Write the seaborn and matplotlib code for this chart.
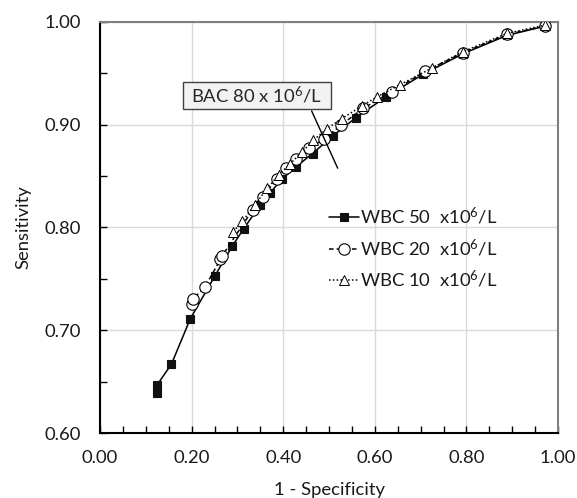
import numpy as np
import pandas as pd
import matplotlib
matplotlib.use("Agg")
import matplotlib.pyplot as plt
from matplotlib.patches import Rectangle
from matplotlib.ticker import MultipleLocator, FormatStrFormatter
import seaborn as sns

# ---------------- data ----------------
wbc50_x = [0.124, 0.125, 0.156, 0.197, 0.251, 0.289, 0.314, 0.350, 0.372, 0.397,
           0.428, 0.464, 0.508, 0.559, 0.624, 0.705, 0.792, 0.889, 0.972]
wbc50_y = [0.639, 0.647, 0.667, 0.711, 0.753, 0.782, 0.799, 0.822, 0.834, 0.847,
           0.859, 0.872, 0.889, 0.907, 0.927, 0.949, 0.969, 0.987, 0.996]

wbc20_x = [0.201, 0.202, 0.229, 0.263, 0.266, 0.333, 0.355, 0.386, 0.406, 0.428,
           0.457, 0.489, 0.527, 0.575, 0.637, 0.710, 0.792, 0.889, 0.972]
wbc20_y = [0.726, 0.730, 0.742, 0.769, 0.772, 0.817, 0.830, 0.847, 0.858, 0.867,
           0.877, 0.886, 0.900, 0.916, 0.932, 0.952, 0.970, 0.988, 0.996]

wbc10_x = [0.291, 0.311, 0.338, 0.365, 0.390, 0.415, 0.440, 0.466, 0.495, 0.528,
           0.571, 0.604, 0.655, 0.724, 0.792, 0.889, 0.972]
wbc10_y = [0.796, 0.806, 0.822, 0.838, 0.851, 0.862, 0.873, 0.885, 0.896, 0.906,
           0.918, 0.927, 0.939, 0.955, 0.971, 0.989, 0.997]

series_labels = [r"WBC 50  x10$^{\mathrm{6}}$/L",
                 r"WBC 20  x10$^{\mathrm{6}}$/L",
                 r"WBC 10  x10$^{\mathrm{6}}$/L"]

annot_text = r"BAC 80 x 10$^{\mathrm{6}}$/L"
annot_text_xy = (0.198, 0.9283)
annot_box_x = (0.1806, 0.5044)
annot_box_y = (0.9153, 0.9413)
annot_line_x = [0.462, 0.519]
annot_line_y = [0.9135, 0.8577]

x_ticks = [0.0, 0.2, 0.4, 0.6, 0.8, 1.0]
y_ticks = [0.6, 0.7, 0.8, 0.9, 1.0]

# ---------------- style ----------------
sns.set_theme(style="white")
plt.rcParams['font.family'] = ['Lato', 'DejaVu Sans']
plt.rcParams['mathtext.fontset'] = 'custom'
plt.rcParams['mathtext.rm'] = 'Lato'
plt.rcParams['mathtext.it'] = 'Lato:italic'
plt.rcParams['mathtext.bf'] = 'Lato:bold'

FS = 13.3
TXT = "#1a1a1a"
fig = plt.figure(figsize=(5.77, 4.98), dpi=100)
ax = fig.add_axes([100/577, 1-433/498, 458/577, 411/498])

df50 = pd.DataFrame({"x": wbc50_x, "y": wbc50_y})
df20 = pd.DataFrame({"x": wbc20_x, "y": wbc20_y})
df10 = pd.DataFrame({"x": wbc10_x, "y": wbc10_y})

sns.lineplot(data=df50, x="x", y="y", ax=ax, sort=False, estimator=None,
             color="black", linewidth=1.1, linestyle="-", marker="s",
             markersize=5.8, markerfacecolor="#111111", markeredgecolor="#111111",
             markeredgewidth=0.8, label=series_labels[0], zorder=3)
sns.lineplot(data=df20, x="x", y="y", ax=ax, sort=False, estimator=None,
             color="black", linewidth=1.1, linestyle=(0, (3, 2)), marker="o",
             markersize=8.2, markerfacecolor="white", markeredgecolor="black",
             markeredgewidth=0.8, label=series_labels[1], zorder=4)
sns.lineplot(data=df10, x="x", y="y", ax=ax, sort=False, estimator=None,
             color="black", linewidth=1.1, linestyle=(0, (1, 1.5)), marker="^",
             markersize=6.5, markerfacecolor="white", markeredgecolor="black",
             markeredgewidth=0.7, label=series_labels[2], zorder=5)

# annotation
ax.plot(annot_line_x, annot_line_y, color="black", linewidth=1.0, zorder=6)
ax.add_patch(Rectangle((annot_box_x[0], annot_box_y[0]),
                       annot_box_x[1] - annot_box_x[0],
                       annot_box_y[1] - annot_box_y[0],
                       facecolor="#f2f2f2", edgecolor="#404040", linewidth=1.0,
                       zorder=7))
ax.text(annot_text_xy[0], annot_text_xy[1], annot_text, fontsize=FS,
        ha="left", va="center", color="#262626", zorder=8)

# axes
ax.set_xlim(0, 1.0)
ax.set_ylim(0.6, 1.0)
ax.set_xticks(x_ticks)
ax.set_yticks(y_ticks)
ax.xaxis.set_major_formatter(FormatStrFormatter("%.2f"))
ax.yaxis.set_major_formatter(FormatStrFormatter("%.2f"))
ax.xaxis.set_minor_locator(MultipleLocator(0.05))
ax.yaxis.set_minor_locator(MultipleLocator(0.05))
ax.tick_params(which="both", direction="in", length=5, width=1.0, color="black",
               bottom=True, left=True, top=False, right=False)
ax.tick_params(axis="x", which="major", labelsize=FS, pad=12.5, labelcolor=TXT)
ax.tick_params(axis="y", which="major", labelsize=FS, pad=14, labelcolor=TXT)
ax.grid(True, which="major", color="#d9d9d9", linewidth=1.0)
ax.set_axisbelow(True)

for s in ["left", "bottom"]:
    ax.spines[s].set_color("black")
    ax.spines[s].set_linewidth(1.5)
for s in ["top", "right"]:
    ax.spines[s].set_color("#808080")
    ax.spines[s].set_linewidth(1.5)
    ax.spines[s].set_visible(True)

ax.set_xlabel("1 - Specificity", fontsize=FS, color=TXT, labelpad=11)
ax.set_ylabel("Sensitivity", fontsize=FS, color=TXT, labelpad=9)

leg = ax.legend(loc="center left", bbox_to_anchor=(0.5, 0.45), frameon=False,
                fontsize=FS, handlelength=1.6, handletextpad=0.1,
                labelspacing=0.55, borderpad=0, borderaxespad=0)
for t in leg.get_texts():
    t.set_color(TXT)

fig.savefig("out.png", dpi=100)
